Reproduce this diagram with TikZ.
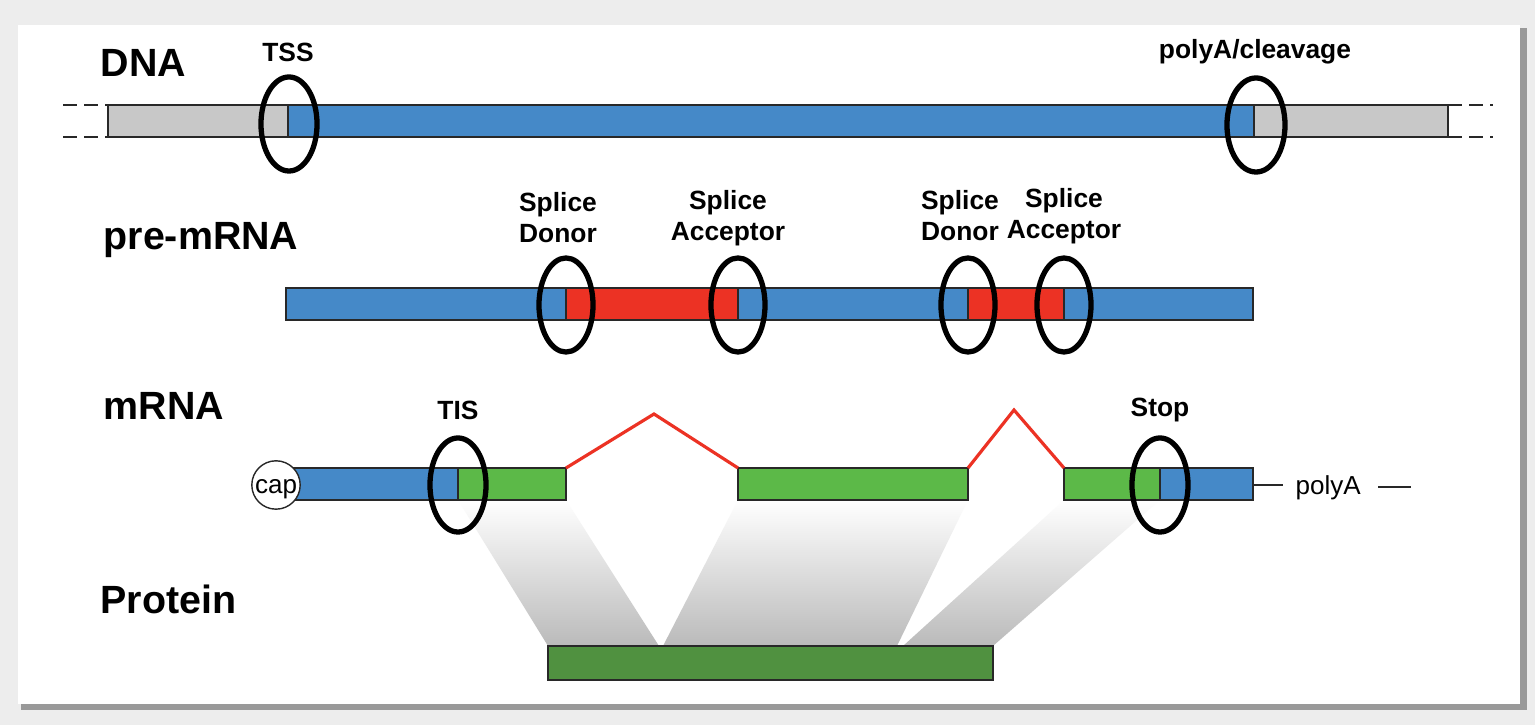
\documentclass[tikz,border=0pt]{standalone}
\usepackage{fontspec}
\setmainfont{Liberation Sans}
\usepackage{tikz}
\definecolor{exonblue}{RGB}{69,137,200}
\definecolor{intronred}{RGB}{236,50,36}
\definecolor{cdsgreen}{RGB}{92,185,72}
\definecolor{protgreen}{RGB}{80,145,64}
\definecolor{flankgray}{RGB}{200,200,200}
\definecolor{edge}{RGB}{40,40,40}

\begin{document}
\begin{tikzpicture}[x=0.01cm, y=-0.01cm,
  bar/.style={draw=edge, line width=0.4pt},
  site/.style={draw=black, line width=1.5pt},
  title/.style={font=\fontsize{11.2}{13}\selectfont\bfseries, inner sep=0pt, anchor=base west},
  tag/.style={font=\fontsize{7.5}{8.8}\selectfont\bfseries, inner sep=0pt, align=center},
  plain/.style={font=\fontsize{7.4}{9}\selectfont, inner sep=0pt},
  proj/.style={top color=white, bottom color=black!27, draw=none}]
\useasboundingbox (0,0) rectangle (1535,725);
% frame with shadow
\fill[black!7] (0,0) rectangle (1535,725);
\fill[black!40] (21,28) rectangle (1527,710);
\fill[white] (18,25) rectangle (1520,704);
% row titles
\node[title] (dna) at (100,77) {DNA};
\node[title] (pre) at (103,250) {pre-mRNA};
\node[title] (mrna) at (103,420) {mRNA};
\node[title] (prot) at (100,614) {Protein};
% DNA
\draw[edge, dash pattern=on 4pt off 2pt] (63,105) -- (108,105);
\draw[edge, dash pattern=on 4pt off 2pt] (63,137) -- (108,137);
\draw[edge, dash pattern=on 4pt off 2pt] (1448,105) -- (1493,105);
\draw[edge, dash pattern=on 4pt off 2pt] (1448,137) -- (1493,137);
\draw[bar, fill=flankgray] (108,105) rectangle (288,137);
\draw[bar, fill=exonblue] (288,105) rectangle (1254,137);
\draw[bar, fill=flankgray] (1254,105) rectangle (1448,137);
\draw[site] (289,124) ellipse [x radius=0.28cm, y radius=0.47cm];
\draw[site] (1256,125) ellipse [x radius=0.29cm, y radius=0.47cm];
\node[tag] (tss) at (288,52) {TSS};
\node[tag] (pac) at (1255,52) {polyA/cleavage};
% pre-mRNA
\draw[bar, fill=exonblue] (286,288) rectangle (566,320);
\draw[bar, fill=intronred] (566,288) rectangle (738,320);
\draw[bar, fill=exonblue] (738,288) rectangle (968,320);
\draw[bar, fill=intronred] (968,288) rectangle (1064,320);
\draw[bar, fill=exonblue] (1064,288) rectangle (1253,320);
\draw[site] (566,305) ellipse [x radius=0.27cm, y radius=0.47cm];
\draw[site] (738,305) ellipse [x radius=0.27cm, y radius=0.47cm];
\draw[site] (968,305) ellipse [x radius=0.27cm, y radius=0.47cm];
\draw[site] (1064,305) ellipse [x radius=0.27cm, y radius=0.47cm];
\node[tag] (don1) at (558,218) {Splice\\Donor};
\node[tag] (acc1) at (728,218) {Splice\\Acceptor};
\node[tag] (don2) at (960,216) {Splice\\Donor};
\node[tag] (acc2) at (1064,216) {Splice\\Acceptor};
% mRNA to protein
\shade[proj] (458,500) -- (566,500) -- (659,646) -- (548,646) -- cycle;
\shade[proj] (738,500) -- (968,500) -- (897,646) -- (663,646) -- cycle;
\shade[proj] (1064,500) -- (1160,500) -- (993,646) -- (903,646) -- cycle;
% mRNA
\draw[bar, fill=exonblue] (290,468) rectangle (458,500);
\draw[bar, fill=cdsgreen] (458,468) rectangle (566,500);
\draw[bar, fill=cdsgreen] (738,468) rectangle (968,500);
\draw[bar, fill=cdsgreen] (1064,468) rectangle (1160,500);
\draw[bar, fill=exonblue] (1160,468) rectangle (1253,500);
\node[circle, draw=edge, fill=white, minimum size=0.48cm, plain,
  text height=1.1ex, text depth=0.2ex] (cap) at (276,485) {cap};
\coordinate (d1) at (566,468);
\coordinate (k1) at (654,414);
\coordinate (a1) at (738,468);
\coordinate (d2) at (968,468);
\coordinate (k2) at (1014,410);
\coordinate (a2) at (1064,468);
\draw[intronred, line width=0.9pt] (d1) -- (k1) -- (a1);
\draw[intronred, line width=0.9pt] (d2) -- (k2) -- (a2);
\draw[site] (458,485) ellipse [x radius=0.28cm, y radius=0.47cm];
\draw[site] (1160,485) ellipse [x radius=0.28cm, y radius=0.47cm];
\node[tag] (tis) at (458,410) {TIS};
\node[tag] (stop) at (1160,410) {Stop};
\coordinate (mend) at (1253,485);
\node[plain, anchor=west] (polya) at (1295,488) {polyA};
\draw[edge, line width=0.5pt] (mend) -- ([xshift=-3.4pt]polya.west |- mend);
\draw[edge, line width=0.5pt] ([xshift=4.8pt]polya.east |- 0,487) -- ++(33,0);
% protein
\draw[bar, fill=protgreen] (548,646) rectangle (993,680);
\end{tikzpicture}
\end{document}
